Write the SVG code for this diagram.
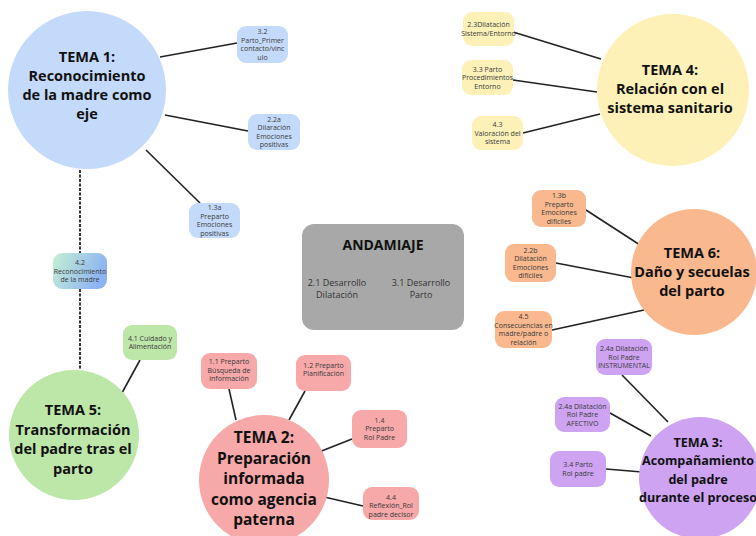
<svg xmlns="http://www.w3.org/2000/svg" width="756" height="536" viewBox="0 0 756 536">
<defs>
<linearGradient id="gb" x1="0" y1="0" x2="1" y2="0.3">
<stop offset="0" stop-color="#c6f0d4"/>
<stop offset="1" stop-color="#8db4f2"/>
</linearGradient>
<style>
.t{font-family:"Open Sans","DejaVu Sans",sans-serif;font-weight:700;font-size:14.5px;fill:#111;text-anchor:middle}
.s{font-family:"Open Sans","DejaVu Sans",sans-serif;font-size:7px;fill:#3a3a3a;text-anchor:middle}
.m{font-family:"Open Sans","DejaVu Sans",sans-serif;font-size:9px;fill:#333;text-anchor:middle}
.blue{fill:#c4dafb}.yel{fill:#fdf1b8}.ora{fill:#f9b88e}.pur{fill:#cda3f2}.grn{fill:#bde6a9}.pnk{fill:#f7a8a8}
.c{stroke:#222;stroke-width:1.6;fill:none}
.d{stroke:#333;stroke-width:2;stroke-dasharray:3 1.5;fill:none}
</style>
</defs>
<rect width="756" height="536" fill="#fff"/>
<g id="connectors">
<line class="c" x1="160" y1="57" x2="237" y2="43"/>
<line class="c" x1="165" y1="115" x2="248" y2="131"/>
<line class="c" x1="146" y1="150" x2="200" y2="203"/>
<line class="d" x1="80" y1="170" x2="80" y2="253"/>
<line class="d" x1="80" y1="289" x2="80" y2="370"/>
<line class="c" x1="140" y1="360" x2="117" y2="402"/>
<line class="c" x1="513" y1="32" x2="601" y2="59"/>
<line class="c" x1="513" y1="80" x2="597" y2="92"/>
<line class="c" x1="523" y1="133" x2="600" y2="114"/>
<line class="c" x1="586" y1="210" x2="640" y2="245"/>
<line class="c" x1="556" y1="263" x2="634" y2="278"/>
<line class="c" x1="552" y1="330" x2="644" y2="310"/>
<line class="c" x1="622" y1="375" x2="668" y2="422"/>
<line class="c" x1="610" y1="413" x2="651" y2="436"/>
<line class="c" x1="606" y1="469" x2="642" y2="472"/>
<line class="c" x1="229" y1="389" x2="236" y2="420"/>
<line class="c" x1="305" y1="391" x2="289" y2="420"/>
<line class="c" x1="352" y1="439" x2="319" y2="452"/>
<line class="c" x1="363" y1="506" x2="320" y2="496"/>
</g>
<g id="tema1">
<circle class="blue" cx="87" cy="90" r="79"/>
<text class="t" x="87" y="62">TEMA 1:<tspan x="87" dy="19">Reconocimiento</tspan><tspan x="87" dy="19">de la madre como</tspan><tspan x="87" dy="19">eje</tspan></text>
</g>
<g id="tema4">
<circle class="yel" cx="673" cy="90" r="76"/>
<text class="t" x="670" y="75">TEMA 4:<tspan x="670" dy="19">Relación con el</tspan><tspan x="670" dy="19">sistema sanitario</tspan></text>
</g>
<g id="tema6">
<circle class="ora" cx="694" cy="272" r="63"/>
<text class="t" x="692" y="258">TEMA 6:<tspan x="692" dy="19">Daño y secuelas</tspan><tspan x="692" dy="19">del parto</tspan></text>
</g>
<g id="tema3">
<circle class="pur" cx="700" cy="478" r="61"/>
<text class="t" x="698" y="447" style="font-size:12.6px">TEMA 3:<tspan x="698" dy="18.3">Acompañamiento</tspan><tspan x="698" dy="18.3">del padre</tspan><tspan x="698" dy="18.3">durante el proceso</tspan></text>
</g>
<g id="tema5">
<circle class="grn" cx="74" cy="435" r="65"/>
<text class="t" x="73" y="415">TEMA 5:<tspan x="73" dy="19.5">Transformación</tspan><tspan x="73" dy="19.5">del padre tras el</tspan><tspan x="73" dy="19.5">parto</tspan></text>
</g>
<g id="tema2">
<circle class="pnk" cx="264" cy="480" r="65"/>
<text class="t" x="264" y="443" style="font-size:15.5px">TEMA 2:<tspan x="264" dy="20.5">Preparación</tspan><tspan x="264" dy="20.5">informada</tspan><tspan x="264" dy="20.5">como agencia</tspan><tspan x="264" dy="20.5">paterna</tspan></text>
</g>
<g id="andamiaje">
<rect x="302" y="224" width="162" height="106" rx="12" fill="#a8a8a8"/>
<text class="t" x="383" y="250" style="font-size:14px">ANDAMIAJE</text>
<text class="m" x="337" y="286">2.1 Desarrollo<tspan x="337" dy="12">Dilatación</tspan></text>
<text class="m" x="421" y="286">3.1 Desarrollo<tspan x="421" dy="12">Parto</tspan></text>
</g>
<g id="n32">
<rect class="blue" x="237" y="26" width="51" height="37" rx="9"/>
<text class="s" x="262.5" y="34.2">3.2<tspan x="262.5" dy="8.5">Parto_Primer</tspan><tspan x="262.5" dy="8.5">contacto/vinc</tspan><tspan x="262.5" dy="8.5">ulo</tspan></text>
</g>
<g id="n22a">
<rect class="blue" x="248" y="114" width="52" height="36" rx="9"/>
<text class="s" x="274" y="121.7">2.2a<tspan x="274" dy="8.5">Dilaración</tspan><tspan x="274" dy="8.5">Emociones</tspan><tspan x="274" dy="8.5">positivas</tspan></text>
</g>
<g id="n13a">
<rect class="blue" x="189" y="203" width="51" height="35" rx="9"/>
<text class="s" x="214.5" y="210.3">1.3a<tspan x="214.5" dy="8.5">Preparto</tspan><tspan x="214.5" dy="8.5">Emociones</tspan><tspan x="214.5" dy="8.5">positivas</tspan></text>
</g>
<g id="n23">
<rect class="yel" x="463" y="12" width="51" height="34" rx="9"/>
<text class="s" x="488.5" y="27.3">2.3Dilatación<tspan x="488.5" dy="8.5">Sistema/Entorno</tspan></text>
</g>
<g id="n33">
<rect class="yel" x="462" y="60" width="51" height="35" rx="9"/>
<text class="s" x="487.5" y="71.5">3.3 Parto<tspan x="487.5" dy="8.5">Procedimientos</tspan><tspan x="487.5" dy="8.5">Entorno</tspan></text>
</g>
<g id="n43">
<rect class="yel" x="472" y="116" width="51" height="34" rx="9"/>
<text class="s" x="497.5" y="127">4.3<tspan x="497.5" dy="8.5">Valoración del</tspan><tspan x="497.5" dy="8.5">sistema</tspan></text>
</g>
<g id="n13b">
<rect class="ora" x="532" y="190" width="54" height="37" rx="9"/>
<text class="s" x="559" y="198.3">1.3b<tspan x="559" dy="8.5">Preparto</tspan><tspan x="559" dy="8.5">Emociones</tspan><tspan x="559" dy="8.5">difíciles</tspan></text>
</g>
<g id="n22b">
<rect class="ora" x="505" y="244" width="51" height="38" rx="9"/>
<text class="s" x="530.5" y="252.8">2.2b<tspan x="530.5" dy="8.5">Dilatación</tspan><tspan x="530.5" dy="8.5">Emociones</tspan><tspan x="530.5" dy="8.5">difíciles</tspan></text>
</g>
<g id="n45">
<rect class="ora" x="495" y="311" width="57" height="37" rx="9"/>
<text class="s" x="523.5" y="319.3">4.5<tspan x="523.5" dy="8.5">Consecuencias en</tspan><tspan x="523.5" dy="8.5">madre/padre o</tspan><tspan x="523.5" dy="8.5">relación</tspan></text>
</g>
<g id="n24i">
<rect class="pur" x="596" y="339" width="56" height="36" rx="9"/>
<text class="s" x="624" y="351">2.4a Dilatación<tspan x="624" dy="8.5">Rol Padre</tspan><tspan x="624" dy="8.5">INSTRUMENTAL</tspan></text>
</g>
<g id="n24a">
<rect class="pur" x="555" y="397" width="55" height="35" rx="9"/>
<text class="s" x="582.5" y="408.5">2.4a Dilatación<tspan x="582.5" dy="8.5">Rol Padre</tspan><tspan x="582.5" dy="8.5">AFECTIVO</tspan></text>
</g>
<g id="n34">
<rect class="pur" x="550" y="451" width="56" height="36" rx="9"/>
<text class="s" x="578" y="467.3">3.4 Parto<tspan x="578" dy="8.5">Rol padre</tspan></text>
</g>
<g id="n41">
<rect class="grn" x="123" y="325" width="54" height="35" rx="9"/>
<text class="s" x="150" y="340.8">4.1 Cuidado y<tspan x="150" dy="8.5">Alimentación</tspan></text>
</g>
<g id="n42">
<rect x="53" y="253" width="54" height="36" rx="9" fill="url(#gb)"/>
<text class="s" x="80" y="265">4.2<tspan x="80" dy="8.5">Reconocimiento</tspan><tspan x="80" dy="8.5">de la madre</tspan></text>
</g>
<g id="n11">
<rect class="pnk" x="201" y="353" width="56" height="36" rx="9"/>
<text class="s" x="229" y="364">1.1 Preparto<tspan x="229" dy="8.5">Búsqueda de</tspan><tspan x="229" dy="8.5">información</tspan></text>
</g>
<g id="n12">
<rect class="pnk" x="296" y="355" width="55" height="36" rx="9"/>
<text class="s" x="323.5" y="367.5">1.2  Preparto<tspan x="323.5" dy="8.5">Planificación</tspan></text>
</g>
<g id="n14">
<rect class="pnk" x="352" y="410" width="55" height="38" rx="9"/>
<text class="s" x="379.5" y="422.5">1.4<tspan x="379.5" dy="8.5">Preparto</tspan><tspan x="379.5" dy="8.5">Rol Padre</tspan></text>
</g>
<g id="n44">
<rect class="pnk" x="363" y="487" width="56" height="33" rx="9"/>
<text class="s" x="391" y="499.5">4.4<tspan x="391" dy="8.5">Reflexión_Rol</tspan><tspan x="391" dy="8.5">padre decisor</tspan></text>
</g>
</svg>
